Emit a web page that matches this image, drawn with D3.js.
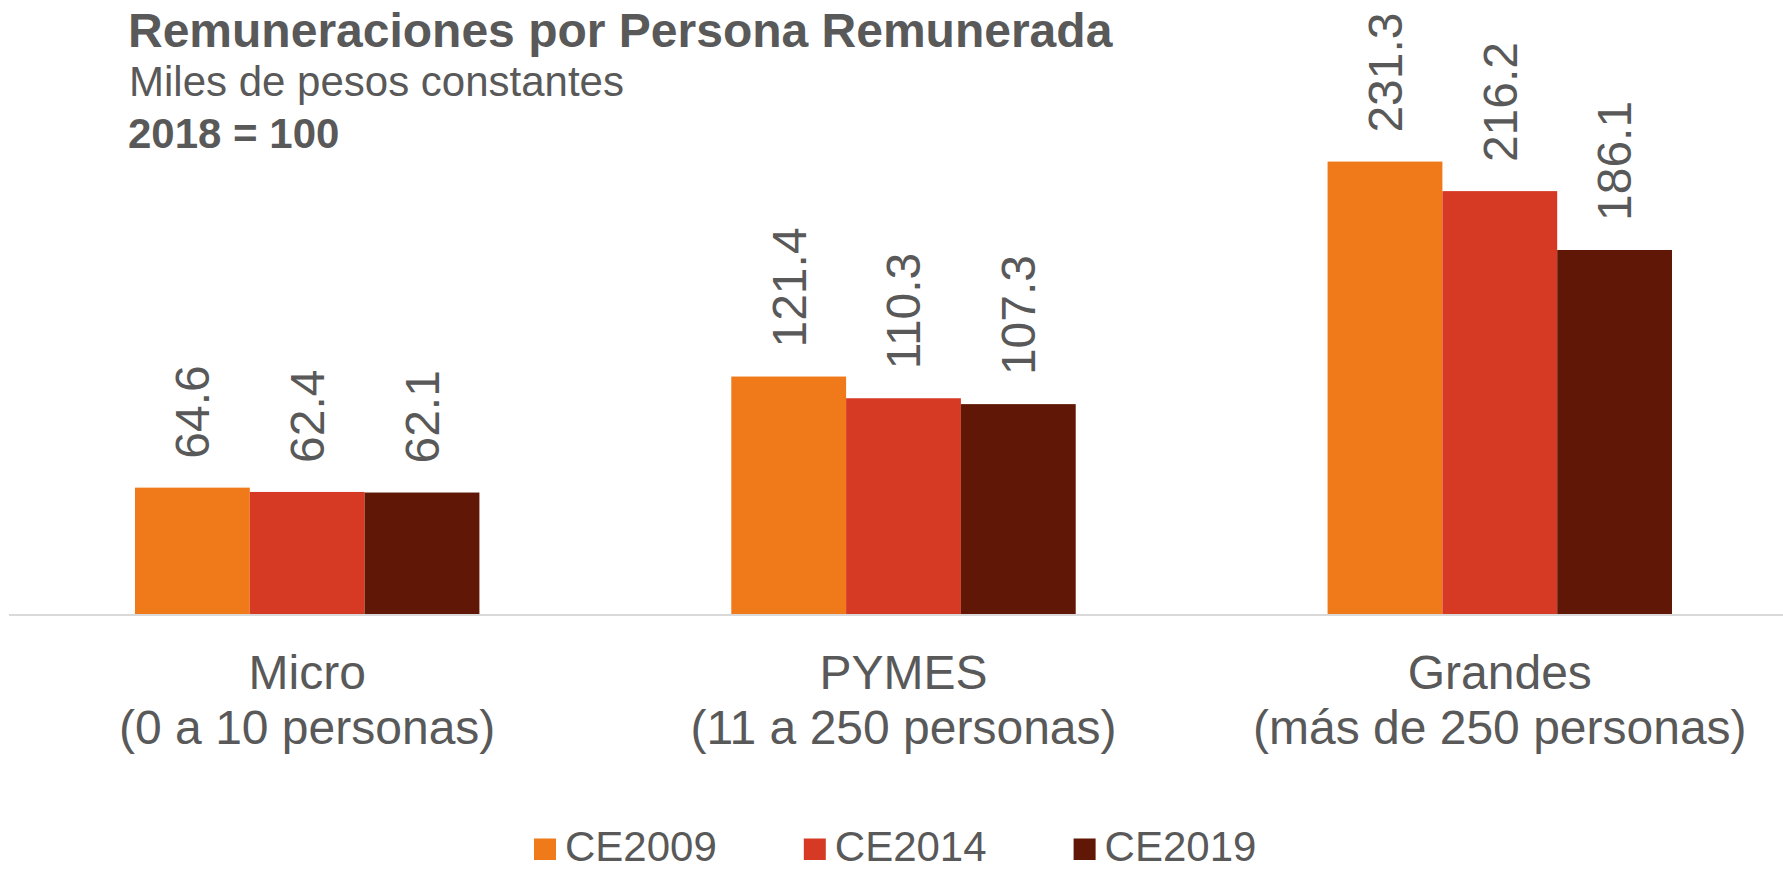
<!DOCTYPE html>
<html>
<head>
<meta charset="utf-8">
<script src="https://cdn.jsdelivr.net/npm/d3@7/dist/d3.min.js"></script>
<style>
  html, body { margin: 0; padding: 0; background: #ffffff; }
  svg { display: block; font-family: "Liberation Sans", Arial, sans-serif; }
</style>
</head>
<body>
<svg id="chart" width="1783" height="870"></svg>
<script>
// ---- Data ----
const categories = ["Micro", "PYMES", "Grandes"];
const categorySublabels = ["(0 a 10 personas)", "(11 a 250 personas)", "(más de 250 personas)"];
const seriesNames = ["CE2009", "CE2014", "CE2019"];
const ce2009 = [64.6, 121.4, 231.3];
const ce2014 = [62.4, 110.3, 216.2];
const ce2019 = [62.1, 107.3, 186.1];
const seriesValues = [ce2009, ce2014, ce2019];
const seriesColors = ["#F07A1A", "#D63A24", "#601705"];
const titleText = "Remuneraciones por Persona Remunerada";
const subtitleText = "Miles de pesos constantes";
const baseText = "2018 = 100";

// ---- Layout ----
const W = 1783, H = 870;
const baseY = 614;
const textColor = "#595959";

const svg = d3.select("#chart");

const x0 = d3.scaleBand()
  .domain(categories)
  .range([9, 1798])
  .paddingInner(0.4224)
  .paddingOuter(0.2113);

const x1 = d3.scaleBand()
  .domain(seriesNames)
  .range([0, x0.bandwidth()])
  .padding(0);

const y = d3.scaleLinear()
  .domain([0, 250])
  .range([baseY, baseY - 489]);

const color = d3.scaleOrdinal().domain(seriesNames).range(seriesColors);

// table built from arrays
const table = categories.map((c, i) => ({
  category: c,
  values: seriesNames.map((s, j) => ({ series: s, value: seriesValues[j][i] }))
}));

// Bars
const groups = svg.append("g").selectAll("g.grp")
  .data(table)
  .join("g")
  .attr("class", "grp")
  .attr("transform", d => `translate(${x0(d.category)},0)`);

groups.selectAll("rect")
  .data(d => d.values)
  .join("rect")
  .attr("x", d => x1(d.series))
  .attr("y", d => y(d.value))
  .attr("width", x1.bandwidth())
  .attr("height", d => y(0) - y(d.value))
  .attr("fill", d => color(d.series));

// Value labels (rotated)
groups.selectAll("text.val")
  .data(d => d.values)
  .join("text")
  .attr("class", "val")
  .attr("transform", d => `translate(${x1(d.series) + x1.bandwidth() / 2},${y(d.value) - 29}) rotate(-90)`)
  .attr("dy", "0.35em")
  .attr("text-anchor", "start")
  .attr("font-size", 48)
  .attr("fill", textColor)
  .text(d => d.value.toFixed(1));

// Axis baseline
const xAxis = d3.axisBottom(x0).tickSize(0).tickFormat("");
const axisG = svg.append("g")
  .attr("transform", `translate(0,${baseY + 1})`)
  .call(xAxis);
axisG.select(".domain").remove();
axisG.append("line")
  .attr("x1", 9).attr("x2", W)
  .attr("y1", 0).attr("y2", 0)
  .attr("stroke", "#D9D9D9")
  .attr("stroke-width", 2);

// Category labels
const catLabels = svg.append("g").selectAll("text.cat")
  .data(categories)
  .join("text")
  .attr("class", "cat")
  .attr("text-anchor", "middle")
  .attr("font-size", 48)
  .attr("fill", textColor);
catLabels.append("tspan")
  .attr("x", d => x0(d) + x0.bandwidth() / 2)
  .attr("y", 688.5)
  .text(d => d);
catLabels.append("tspan")
  .attr("x", d => x0(d) + x0.bandwidth() / 2)
  .attr("y", 744)
  .text((d, i) => categorySublabels[i]);

// Titles
svg.append("text")
  .attr("x", 128).attr("y", 46.5)
  .attr("font-size", 48).attr("font-weight", "bold")
  .attr("fill", textColor)
  .text(titleText);
svg.append("text")
  .attr("x", 129).attr("y", 95.5)
  .attr("font-size", 42)
  .attr("fill", textColor)
  .text(subtitleText);
svg.append("text")
  .attr("x", 128).attr("y", 147.5)
  .attr("font-size", 42).attr("font-weight", "bold")
  .attr("fill", textColor)
  .text(baseText);

// Legend
const legend = svg.append("g").attr("transform", "translate(534,0)");
const li = legend.selectAll("g")
  .data(seriesNames)
  .join("g")
  .attr("transform", (d, i) => `translate(${i * 269.8},0)`);
li.append("rect")
  .attr("x", 0).attr("y", 838.5)
  .attr("width", 22).attr("height", 21.5)
  .attr("fill", d => color(d));
li.append("text")
  .attr("x", 31).attr("y", 861)
  .attr("font-size", 42)
  .attr("fill", textColor)
  .text(d => d);
</script>
</body>
</html>
